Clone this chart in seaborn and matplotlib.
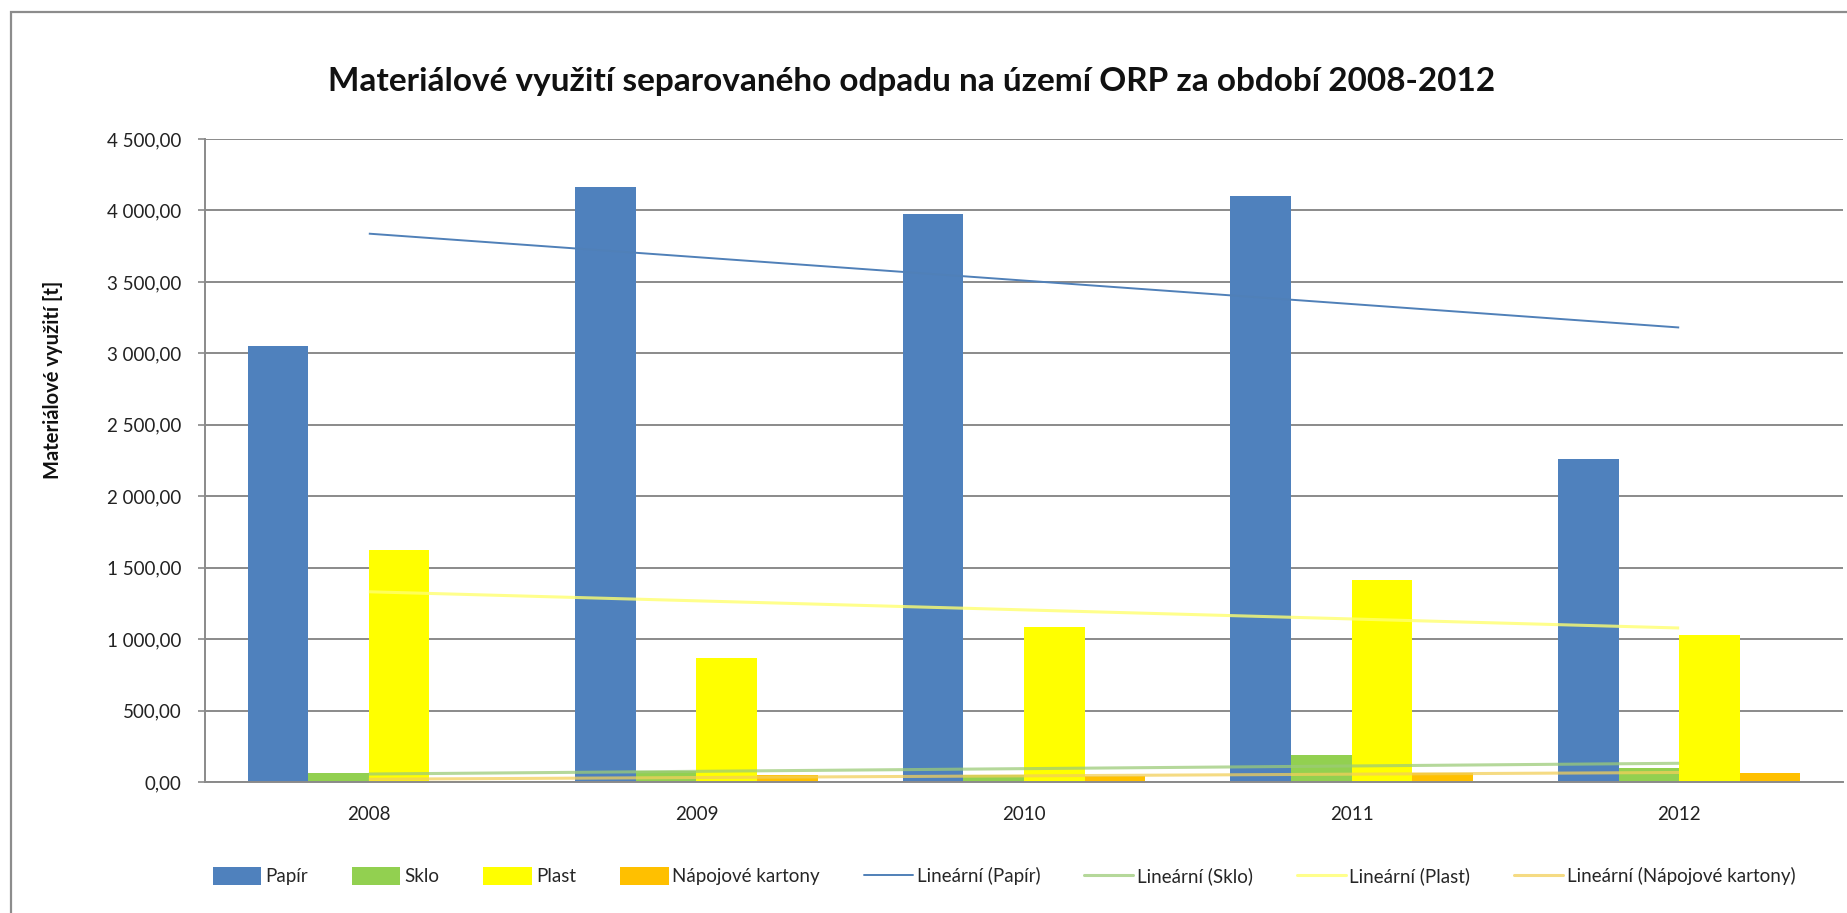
import numpy as np
import pandas as pd
import matplotlib
matplotlib.use("Agg")
import matplotlib.pyplot as plt
import seaborn as sns
from matplotlib.patches import Rectangle, Patch
from matplotlib.lines import Line2D
from matplotlib.ticker import FuncFormatter

# Material recovery of separated waste, tonnes per year
years = ["2008", "2009", "2010", "2011", "2012"]
papir = [3050, 4162, 3972, 4104, 2258]
sklo = [60, 76, 46, 186, 99]
plast = [1623, 865, 1088, 1417, 1030]
kartony = [8, 46, 41, 60, 60]

series_names = ["Papír", "Sklo", "Plast", "Nápojové kartony"]
series_values = [papir, sklo, plast, kartony]
bar_colors = ["#4F81BD", "#92D050", "#FFFF00", "#FFC000"]
trend_colors = ["#5080B8", "#9CCB78", "#FFFF70", "#F2CF5A"]
trend_alpha = [1.0, 0.75, 0.8, 0.75]
trend_widths = [1.4, 2.2, 2.2, 2.2]

title = "Materiálové využití separovaného odpadu na území ORP za období 2008-2012"
ylabel = "Materiálové využití [t]"

df = pd.DataFrame({
    "Rok": years * len(series_names),
    "Materiál": [n for n in series_names for _ in years],
    "t": [v for vals in series_values for v in vals],
})

sns.set_theme(style="white")
plt.rcParams["font.family"] = ["Lato", "DejaVu Sans"]

W, H = 1847, 913
fig = plt.figure(figsize=(W / 100, H / 100), dpi=100)
fig.patch.set_facecolor("white")

ax_left, ax_right, ax_top, ax_bottom = 205, 1843, 139, 782
ax = fig.add_axes([ax_left / W, 1 - ax_bottom / H,
                   (ax_right - ax_left) / W, (ax_bottom - ax_top) / H])

sns.barplot(data=df, x="Rok", y="t", hue="Materiál", hue_order=series_names,
            order=years, palette=bar_colors, width=0.74, gap=0, saturation=1,
            legend=False, ax=ax, linewidth=0, zorder=2)

# linear trend per series
xs = np.arange(len(years))
for vals, c, a, lw in zip(series_values, trend_colors, trend_alpha, trend_widths):
    coef = np.polyfit(xs, vals, 1)
    ax.plot([xs[0], xs[-1]], np.polyval(coef, [xs[0], xs[-1]]),
            color=c, alpha=a, lw=lw, zorder=3, solid_capstyle="butt")

grid_c = "#8A8A8A"
ax.set_ylim(0, 4500)
ax.set_xlim(-0.5, len(years) - 0.5)
ax.set_yticks(np.arange(0, 4501, 500))
ax.yaxis.set_major_formatter(FuncFormatter(
    lambda v, p: f"{v:,.2f}".replace(",", " ").replace(".", ",")))
ax.set_axisbelow(True)
ax.yaxis.grid(True, color=grid_c, lw=1.4)
ax.xaxis.grid(False)
for s in ["top", "right"]:
    ax.spines[s].set_visible(False)
for s in ["left", "bottom"]:
    ax.spines[s].set_color(grid_c)
    ax.spines[s].set_linewidth(1.4)

ax.set_xticks(xs)
ax.set_xticklabels(years)
ax.set_xticks(np.arange(-0.5, len(years)), minor=True)
ax.tick_params(axis="x", which="major", length=0, pad=17, labelsize=13.5,
               labelcolor="#222222")
ax.tick_params(axis="x", which="minor", length=7, width=1.2, color=grid_c,
               direction="out")
ax.tick_params(axis="y", length=5, width=1.2, color=grid_c, direction="out",
               pad=12, labelsize=13.5, labelcolor="#222222", left=True)
ax.set_xlabel("")
ax.set_ylabel("")

fig.text(53 / W, 1 - 380 / H, ylabel, rotation=90, ha="center", va="center",
         fontsize=14.5, fontweight="bold", color="#111111")
fig.text(912 / W, 1 - 82 / H, title, ha="center", va="center",
         fontsize=24, fontweight="bold", color="#111111")

# outer chart border
fig.add_artist(Rectangle((11 / W, -0.05), 1.2, (1 - 12 / H) + 0.05,
                         transform=fig.transFigure, fill=False,
                         edgecolor="#8C8C8C", lw=1.6))

handles = [Patch(facecolor=c, edgecolor="none") for c in bar_colors]
handles += [Line2D([0], [0], color=c, alpha=a, lw=lw)
            for c, a, lw in zip(trend_colors, trend_alpha, trend_widths)]
labels = series_names + [f"Lineární ({n})" for n in series_names]
fig.legend(handles, labels, loc="center", bbox_to_anchor=(1004 / W, 1 - 876 / H),
           ncol=8, frameon=False, fontsize=13.5, handlelength=2.6,
           handleheight=1.1, handletextpad=0.2, columnspacing=2.35)

fig.savefig("out.png", dpi=100)
